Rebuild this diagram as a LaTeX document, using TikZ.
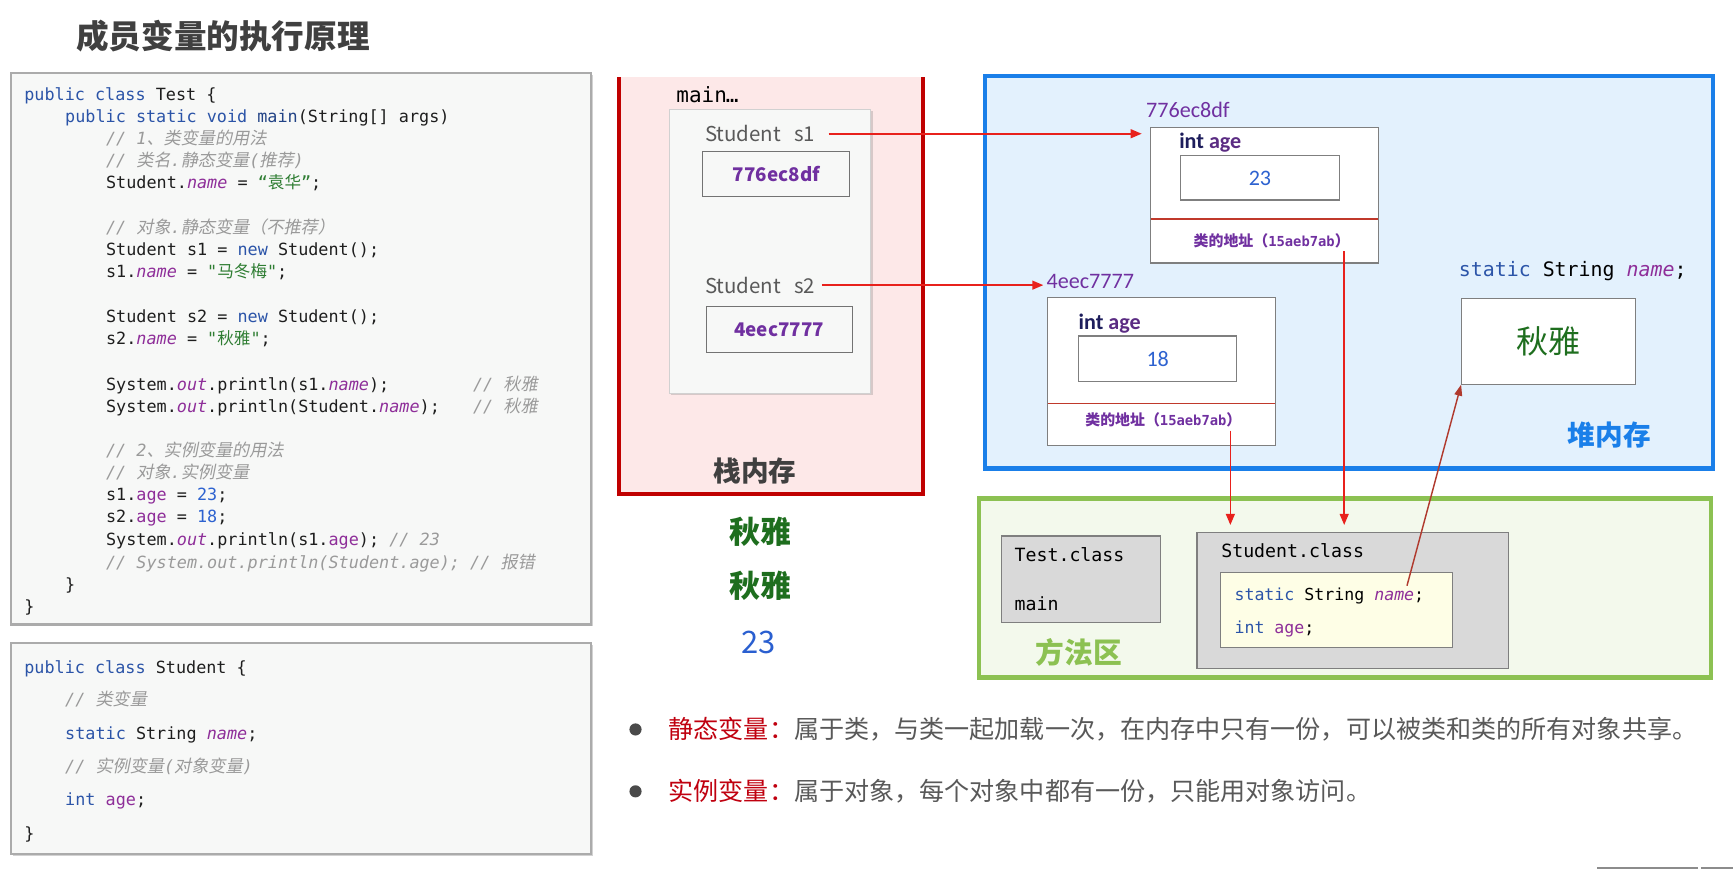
\documentclass[tikz,border=0pt]{standalone}
\usepackage{fontspec}
\usetikzlibrary{arrows.meta,shadows}
\setmonofont{DejaVu Sans Mono}
\newfontfamily\cjk{Noto Sans CJK SC}
\newfontfamily\cjksl{Noto Sans CJK SC}[FakeSlant=0.2]
\newfontfamily\carl{Carlito}
\definecolor{kw}{HTML}{2B54A8}
\definecolor{fld}{HTML}{8E2E99}
\definecolor{strg}{HTML}{2E7D32}
\definecolor{num}{HTML}{2D62D0}
\definecolor{cmt}{HTML}{9A9A9A}
\definecolor{codetxt}{HTML}{1E1E1E}
\definecolor{codefill}{HTML}{F7F8F7}
\definecolor{codeborder}{HTML}{ABABAB}
\definecolor{stackfill}{HTML}{FDE8E8}
\definecolor{stackred}{HTML}{C00000}
\definecolor{heapfill}{HTML}{E3F1FD}
\definecolor{heapblue}{HTML}{1A7FE9}
\definecolor{greenb}{HTML}{8CC152}
\definecolor{greenfill}{HTML}{F3F9EC}
\definecolor{classgray}{HTML}{D9D9D9}
\definecolor{boxgray}{HTML}{7F7F7F}
\definecolor{yellowfill}{HTML}{FEFEE6}
\definecolor{addrpurple}{HTML}{7030A0}
\definecolor{arrowred}{HTML}{E8211C}
\definecolor{darkred}{HTML}{B03A2E}
\definecolor{outgreen}{HTML}{1E6E1E}
\definecolor{outblue}{HTML}{2A5FD0}
\definecolor{bulgray}{HTML}{4A4A4A}
\definecolor{bultext}{HTML}{595959}
\definecolor{bulred}{HTML}{C0000F}
\definecolor{titlegray}{HTML}{404040}
\definecolor{divred}{HTML}{C0392B}
\definecolor{lblgray}{HTML}{595959}
\definecolor{navy}{HTML}{1D1D5C}
\definecolor{agepurple}{HTML}{5B2C83}
\newcommand\jfs[1]{\fontsize{#1}{#1}\selectfont}
\newcommand\jkw[1]{{\color{kw}#1}}
\newcommand\jmn[1]{{\color{kw!80!black}#1}}
\newcommand\jfd[1]{{\color{fld}\itshape #1}}
\newcommand\jag[1]{{\color{fld}#1}}
\newcommand\jst[1]{{\color{strg}#1}}
\newcommand\jnum[1]{{\color{num}#1}}
\newcommand\jcm[1]{{\color{cmt}\itshape #1}}
\newcommand\zhs[1]{{\cjksl\jfs{15.5}#1}}
\newcommand\zhu[1]{{\cjk\jfs{15}#1}}
\tikzset{
  cl/.style={anchor=base west, inner sep=0pt, outer sep=0pt, text=codetxt, font=\ttfamily\jfs{15.2}},
  boxnw/.style={anchor=north west, inner sep=0pt, outer sep=0pt},
  codebox/.style={boxnw, fill=codefill, draw=codeborder, line width=2pt,
    drop shadow={shadow xshift=1.5pt, shadow yshift=-1.5pt, opacity=0.35, fill=gray}},
  plainbox/.style={boxnw, fill=white, draw=boxgray, line width=1pt},
  txt/.style={inner sep=0pt, outer sep=0pt},
  rarrow/.style={draw=arrowred, line width=1.5pt, -{Triangle[length=10pt,width=8pt]}},
  darrow/.style={draw=darkred, line width=1.3pt, -{Triangle[length=10pt,width=7pt]}},
}
\begin{document}
\begin{tikzpicture}[x=1pt, y=-1pt]
\useasboundingbox (0,0) rectangle (1568,786);
\fill[white] (0,0) rectangle (1568,786);

% title
\node[txt, anchor=west, text=titlegray, font=\cjk\bfseries\jfs{29.5}] (title) at (69,33) {成员变量的执行原理};

% code box 1
\node[codebox, minimum width=525pt, minimum height=499pt] (code1) at (10,66) {};
\node[cl] (c1) at (22,91) {\jkw{public class} Test \{};
\node[cl] (c2) at (59,111) {\jkw{public static void} \jmn{main}(String[] args)};
\node[cl] (c3) at (96,131) {\jcm{// 1\zhs{、类变量的用法}}};
\node[cl] (c4) at (96,151) {\jcm{// \zhs{类名}.\zhs{静态变量}(\zhs{推荐})}};
\node[cl] (c5) at (96,171) {Student.\jfd{name} = \jst{“\zhu{袁华}”};};
\node[cl] (c6) at (96,211) {\jcm{// \zhs{对象}.\zhs{静态变量（不推荐）}}};
\node[cl] (c7) at (96,231) {Student s1 = \jkw{new} Student();};
\node[cl] (c8) at (96,251) {s1.\jfd{name} = \jst{"\zhu{马冬梅}"};};
\node[cl] (c9) at (96,292) {Student s2 = \jkw{new} Student();};
\node[cl] (c10) at (96,312) {s2.\jfd{name} = \jst{"\zhu{秋雅}"};};
\node[cl] (c11) at (96,353) {System.\jfd{out}.println(s1.\jfd{name});};
\node[cl] (c11c) at (428,353) {\jcm{// \zhs{秋雅}}};
\node[cl] (c12) at (96,373) {System.\jfd{out}.println(Student.\jfd{name});};
\node[cl] (c12c) at (428,373) {\jcm{// \zhs{秋雅}}};
\node[cl] (c13) at (96,413) {\jcm{// 2\zhs{、实例变量的用法}}};
\node[cl] (c14) at (96,433) {\jcm{// \zhs{对象}.\zhs{实例变量}}};
\node[cl] (c15) at (96,453) {s1.\jag{age} = \jnum{23};};
\node[cl] (c16) at (96,473) {s2.\jag{age} = \jnum{18};};
\node[cl] (c17) at (96,494) {System.\jfd{out}.println(s1.\jag{age}); \jcm{// 23}};
\node[cl] (c18) at (96,514) {\jcm{// System.out.println(Student.age); // \zhs{报错}}};
\node[cl] (c19) at (59,534) {\}};
\node[cl] (c20) at (22,554) {\}};

% code box 2
\node[codebox, minimum width=525pt, minimum height=191pt] (code2) at (10,582) {};
\node[cl] (d1) at (22,609) {\jkw{public class} Student \{};
\node[cl] (d2) at (59,638) {\jcm{// \zhs{类变量}}};
\node[cl] (d3) at (59,669) {\jkw{static} String \jfd{name};};
\node[cl] (d4) at (59,699) {\jcm{// \zhs{实例变量}(\zhs{对象变量})}};
\node[cl] (d5) at (59,729) {\jkw{int} \jag{age};};
\node[cl] (d6) at (22,760) {\}};

% stack
\node[boxnw, fill=stackfill, minimum width=275pt, minimum height=377pt] (stack) at (560,70) {};
\draw[stackred, line width=3pt] (stack.north west) -- (stack.south west) -- (stack.south east) -- (stack.north east);
\node[txt, anchor=west, font=\ttfamily\jfs{19}] (mainlbl) at (612,86) {main\kern-1pt…};
\node[boxnw, fill=codefill, draw=black!18, line width=1pt, minimum width=182pt, minimum height=257pt,
  drop shadow={shadow xshift=1.5pt, shadow yshift=-1.5pt, opacity=0.3, fill=gray}] (frame) at (606,99) {};
\node[txt, anchor=west, text=lblgray, font=\cjk\jfs{18.5}] (s1) at (638,121) {Student\hspace{12pt}s1};
\node[plainbox, fill=none, draw=black!55, minimum width=133pt, minimum height=41pt,
  text=addrpurple, font=\cjk\bfseries\jfs{17}] (a1) at (636,137) {776ec8df};
\node[txt, anchor=west, text=lblgray, font=\cjk\jfs{18.5}] (s2) at (638,258) {Student\hspace{12pt}s2};
\node[plainbox, fill=none, draw=black!55, minimum width=132pt, minimum height=42pt,
  text=addrpurple, font=\cjk\bfseries\jfs{17}] (a2) at (639,277) {4eec7777};
\node[txt, text=titlegray, font=\cjk\bfseries\jfs{25}] (stacklbl) at (683,426) {栈内存};

% outputs
\node[txt, text=outgreen, font=\cjk\bfseries\jfs{28}] (o1) at (688,481) {秋雅};
\node[txt, text=outgreen, font=\cjk\bfseries\jfs{28}] (o2) at (688,530) {秋雅};
\node[txt, text=outblue, font=\cjk\jfs{28}] (o3) at (686,581) {23};

% heap
\node[boxnw, fill=heapfill, draw=heapblue, line width=4pt, minimum width=659pt, minimum height=355pt] (heap) at (891,69) {};
\node[txt, anchor=west, text=addrpurple, font=\carl\jfs{20}] (addr1) at (1037,99) {776ec8df};
\node[plainbox, minimum width=206pt, minimum height=123pt] (obj1) at (1041,115) {};
\draw[divred, line width=1.5pt] ([yshift=40pt]obj1.south west) -- ([yshift=40pt]obj1.south east);
\node[txt, anchor=west, font=\carl\bfseries\jfs{20}] (ia1) at (1067,129) {\textcolor{navy}{int} \textcolor{agepurple}{age}};
\node[plainbox, minimum width=144pt, minimum height=40pt, text=num, font=\carl\jfs{20}] (v1) at (1068,141) {23};
\node[txt, anchor=west, text=addrpurple, font=\cjk\bfseries\jfs{13.5}] (cls1) at (1080,218) {类的地址（{\ttfamily\bfseries\jfs{12.5}15aeb7ab}）};
\node[txt, anchor=west, text=addrpurple, font=\carl\jfs{20}] (addr2) at (947,255) {4eec7777};
\node[plainbox, minimum width=206pt, minimum height=134pt] (obj2) at (948,269) {};
\draw[divred, line width=1.5pt] ([yshift=38pt]obj2.south west) -- ([yshift=38pt]obj2.south east);
\node[txt, anchor=west, font=\carl\bfseries\jfs{20}] (ia2) at (976,293) {\textcolor{navy}{int} \textcolor{agepurple}{age}};
\node[plainbox, minimum width=143pt, minimum height=41pt, text=num, font=\carl\jfs{20}] (v2) at (976,304) {18};
\node[txt, anchor=west, text=addrpurple, font=\cjk\bfseries\jfs{13.5}] (cls2) at (982,380) {类的地址（{\ttfamily\bfseries\jfs{12.5}15aeb7ab}）};
\node[txt, anchor=west, font=\ttfamily\jfs{18}] (stlbl) at (1320,245) {\jkw{static} String \jfd{name};};
\node[plainbox, minimum width=158pt, minimum height=78pt, text=outgreen, font=\cjk\jfs{29}] (stbox) at (1322,270) {秋雅};
\node[txt, text=heapblue, font=\cjk\bfseries\jfs{25}] (heaplbl) at (1456,394) {堆内存};

% method area
\node[boxnw, fill=greenfill, draw=greenb, line width=4pt, minimum width=662pt, minimum height=162pt] (marea) at (886,451) {};
\node[boxnw, fill=classgray, draw=boxgray, line width=1pt, minimum width=144pt, minimum height=78pt] (tcls) at (906,485) {};
\node[txt, anchor=west, font=\ttfamily\jfs{16.5}] (tclsname) at (918,502) {Test.class};
\node[txt, anchor=west, font=\ttfamily\jfs{16.5}] (tmain) at (918,546) {main};
\node[txt, text=greenb, font=\cjk\bfseries\jfs{26}] (mlbl) at (976,590) {方法区};
\node[boxnw, fill=classgray, draw=boxgray, line width=1pt, minimum width=282pt, minimum height=123pt] (scls) at (1083,482) {};
\node[txt, anchor=west, font=\ttfamily\jfs{16.5}] (sclsname) at (1105,498) {Student.class};
\node[boxnw, fill=yellowfill, draw=boxgray, line width=1pt, minimum width=210pt, minimum height=68pt] (ybox) at (1104,518) {};
\node[txt, anchor=west, font=\ttfamily\jfs{15}] (yl1) at (1117,539) {\jkw{static} String \jfd{name};};
\node[txt, anchor=west, font=\ttfamily\jfs{15}] (yl2) at (1117,569) {\jkw{int} \jag{age};};

% arrows
\draw[rarrow] ([xshift=12pt]s1.east) -- ([xshift=-8pt]obj1.west |- s1.east);
\draw[rarrow] ([xshift=6pt]s2.east) -- ([xshift=-3pt]addr2.west |- s2.east);
\coordinate (p2) at ([xshift=-10pt,yshift=-3pt]cls2.south east);
\coordinate (p1) at ([xshift=-5pt,yshift=-3pt]cls1.south east);
\draw[rarrow, shorten >=7pt] (p2) -- (p2 |- scls.north);
\draw[rarrow, shorten >=7pt] (p1) -- (p1 |- scls.north);
\coordinate (nm) at (1273,530);
\draw[darrow] (nm) -- (stbox.south west);

% bullets
\node[circle, fill=bulgray, inner sep=0pt, minimum size=11pt] (b1) at (575,660) {};
\node[txt, anchor=west, text=bultext, font=\cjk\jfs{22.7}] (t1) at (605,660) {\textcolor{bulred}{静态变量：}属于类，与类一起加载一次，在内存中只有一份，可以被类和类的所有对象共享。};
\node[circle, fill=bulgray, inner sep=0pt, minimum size=11pt] (b2) at (575,716) {};
\node[txt, anchor=west, text=bultext, font=\cjk\jfs{22.7}] (t2) at (605,716) {\textcolor{bulred}{实例变量：}属于对象，每个对象中都有一份，只能用对象访问。};

% bottom-right bar
\draw[black!45, line width=2pt] (1445,785) -- (1536,785);
\draw[black!45, line width=2pt] (1539,785) -- (1568,785);
\end{tikzpicture}
\end{document}
